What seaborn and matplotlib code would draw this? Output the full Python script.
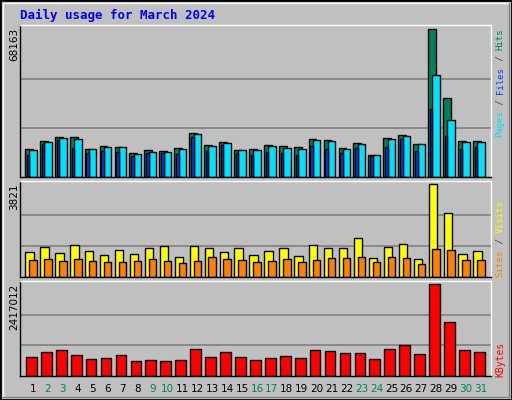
import matplotlib
matplotlib.use("Agg")
import matplotlib.pyplot as plt
import seaborn as sns
import numpy as np
from matplotlib.patches import Rectangle
from matplotlib.lines import Line2D

days = list(range(1, 32))
weekend = [2, 3, 9, 10, 16, 17, 23, 24, 30, 31]
hits = [13107, 16808, 18658, 18658, 13107, 14495, 14032, 11257, 12644, 12182, 13570, 20509,
        14957, 16345, 12644, 13107, 14957, 14495, 14032, 17733, 17270, 13570, 15883, 10331,
        18196, 19583, 15420, 68163, 36237, 16808, 16808]
files = [12644, 16345, 18196, 17733, 13107, 14032, 14032, 10794, 11719, 11719, 13107, 20046,
         14495, 15883, 12644, 12644, 14495, 13570, 13107, 17270, 16808, 13107, 15420, 10331,
         17733, 19121, 15420, 47185, 26523, 16345, 16345]
pages = [10023, 15420, 17270, 13570, 11257, 12182, 11719, 9560, 10948, 10948, 10486, 18658,
         12182, 14957, 11257, 10331, 11719, 11257, 10331, 14495, 13107, 11257, 13570, 9560,
         14032, 17733, 12182, 31156, 19121, 13107, 14032]
visits = [1048, 1255, 1007, 1338, 1090, 924, 1131, 965, 1214, 1296, 841, 1296, 1214, 1048,
          1214, 924, 1090, 1214, 883, 1338, 1214, 1214, 1627, 800, 1255, 1379, 758, 3821,
          2620, 965, 1090]
sites = [717, 758, 676, 758, 676, 634, 634, 676, 758, 676, 593, 676, 841, 758, 717, 634,
         676, 758, 634, 717, 800, 800, 841, 634, 841, 800, 552, 1172, 1131, 717, 717]
kbytes = [511600, 644000, 697000, 565000, 459000, 485000, 565000, 406000, 432000, 406000,
          432000, 723000, 512000, 644000, 512000, 432000, 485000, 538000, 485000, 697000,
          670000, 617000, 617000, 459000, 723000, 829000, 591000, 2417012, 1411000, 697000,
          644000]

sns.set_style("white")
W, H = 512, 400
fig = plt.figure(figsize=(W / 100, H / 100), dpi=100, facecolor="#C0C0C0")

def ax_px(x0, y0, x1, y1):
    return fig.add_axes([x0 / W, 1 - y1 / H, (x1 - x0) / W, (y1 - y0) / H])

fig.add_artist(Rectangle((0, 0), 1, 1, transform=fig.transFigure, fill=False, ec="black", lw=2))
fig.add_artist(Line2D([3 / W, 3 / W, 1 - 3 / W], [3 / H, 1 - 3 / H, 1 - 3 / H], transform=fig.transFigure, color="white", lw=1))
fig.add_artist(Line2D([3 / W, 1 - 3 / W, 1 - 3 / W], [3 / H, 3 / H, 1 - 3 / H], transform=fig.transFigure, color="#808080", lw=1))

x = np.array(days)
xl = (0.129, 31.67)
panels = [
    (ax_px(20, 25, 491, 177), 70150, 68163),
    (ax_px(20, 181, 491, 277), 3957, 3821),
    (ax_px(20, 281, 491, 376), 2504000, 2417012),
]
for ax, top, mx in panels:
    ax.set_facecolor("#C0C0C0")
    ax.set_xlim(*xl)
    ax.set_ylim(0, top)
    for f in (1 / 3, 2 / 3):
        ax.axhline(mx * f, color="#808080", lw=1.2, zorder=0)
    ax.set_xticks([]); ax.set_yticks([])
    for s in ax.spines.values():
        s.set_color("black"); s.set_linewidth(1)
    ax.spines["top"].set_color("white"); ax.spines["right"].set_color("white")

a1, a2, a3 = [p[0] for p in panels]
kw = dict(edgecolor="black", linewidth=1)
a1.bar(x - 0.28, hits, width=0.52, color="#00805C", **kw)
a1.bar(x, files, width=0.5, color="#00E0FF", **kw)
a1.bar(x - 0.335, pages, width=0.17, color="#0040FF", **kw)
a2.bar(x - 0.23, visits, width=0.56, color="#FFFF00", **kw)
a2.bar(x, sites, width=0.5, color="#FF8000", **kw)
a3.bar(x - 0.11, kbytes, width=0.72, color="#FF0000", **kw)

mono = "DejaVu Sans Mono"
fig.text(20 / W, 1 - 15 / H, "Daily usage for March 2024", color="#0000FF", family=mono,
         weight="bold", fontsize=9, va="center", ha="left")
for ypx, txt in [(28, "68163"), (184, "3821"), (284, "2417012")]:
    fig.text(14 / W, 1 - ypx / H, txt, rotation=90, ha="center", va="top", fontsize=7.5, color="black")

def right_label(bottom_px, parts, fs):
    step = 0.602 * fs * 100 / 72
    pos = bottom_px
    for txt, col in parts:
        fig.text(500 / W, 1 - pos / H, txt, rotation=90, ha="center", va="bottom",
                 family=mono, fontsize=fs, color=col)
        pos -= step * len(txt)

right_label(137, [("Pages", "#00E0FF"), (" / ", "#404040"), ("Files", "#0040FF"),
                  (" / ", "#404040"), ("Hits", "#00805C")], 6.5)
right_label(277, [("Sites", "#FF8000"), (" / ", "#404040"), ("Visits", "#FFFF00")], 6.6)
right_label(377, [("KBytes", "#FF0000")], 7)

for d in days:
    xp = 20 + (d - xl[0]) / (xl[1] - xl[0]) * 471
    fig.text(xp / W, 1 - 389 / H, str(d), ha="center", va="center", fontsize=7.5,
             color="#00805C" if d in weekend else "black")

fig.savefig("out.png", dpi=100, facecolor=fig.get_facecolor())
